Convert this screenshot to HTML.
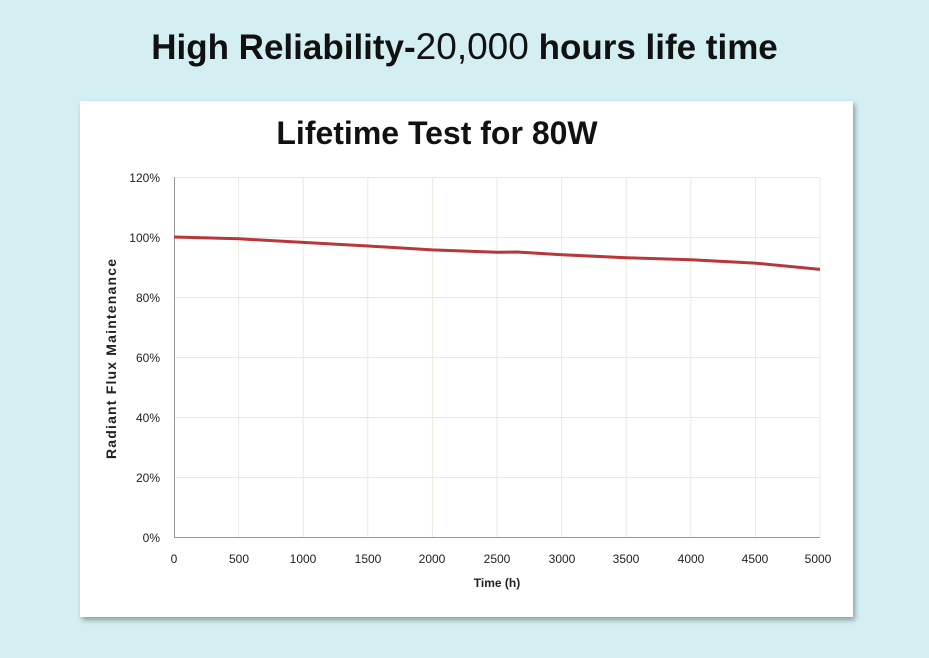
<!DOCTYPE html>
<html><head><meta charset="utf-8"><style>
html,body{margin:0;padding:0;width:929px;height:658px;background:#d3eff2;overflow:hidden;font-family:"Liberation Sans",sans-serif}
.t{position:absolute;left:0;width:929px;top:26px;text-align:center;font-weight:bold;font-size:35px;color:#111;white-space:nowrap}
.t span{font-weight:normal;font-size:37px}
.box{position:absolute;left:80px;top:101px;width:773px;height:516px;background:#fff;box-shadow:2px 3px 5px rgba(0,0,0,0.35)}
</style></head><body>
<div class="t">High Reliability-<span>20,000</span> hours life time</div>
<div class="box"></div>
<svg width="929" height="658" style="position:absolute;left:0;top:0" font-family="Liberation Sans, sans-serif">
<text x="437" y="144" text-anchor="middle" font-size="32" font-weight="bold" fill="#111">Lifetime Test for 80W</text>
<g stroke="#ebeadc" stroke-width="1">
<line x1="174" x2="820" y1="177.5" y2="177.5"/><line x1="174" x2="820" y1="237.5" y2="237.5"/><line x1="174" x2="820" y1="297.5" y2="297.5"/><line x1="174" x2="820" y1="357.5" y2="357.5"/><line x1="174" x2="820" y1="417.5" y2="417.5"/><line x1="174" x2="820" y1="477.5" y2="477.5"/>
<line x1="238.6" x2="238.6" y1="177" y2="537"/><line x1="303.2" x2="303.2" y1="177" y2="537"/><line x1="367.8" x2="367.8" y1="177" y2="537"/><line x1="432.4" x2="432.4" y1="177" y2="537"/><line x1="497" x2="497" y1="177" y2="537"/><line x1="561.6" x2="561.6" y1="177" y2="537"/><line x1="626.2" x2="626.2" y1="177" y2="537"/><line x1="690.8" x2="690.8" y1="177" y2="537"/><line x1="755.4" x2="755.4" y1="177" y2="537"/><line x1="820" x2="820" y1="177" y2="537"/>
</g>
<g stroke="#999" stroke-width="1">
<line x1="174.5" x2="174.5" y1="177" y2="537"/><line x1="174" x2="820" y1="537.5" y2="537.5"/>
</g>
<g font-size="12" fill="#222" text-anchor="end">
<text x="160" y="182">120%</text><text x="160" y="242">100%</text><text x="160" y="302">80%</text><text x="160" y="362">60%</text><text x="160" y="422">40%</text><text x="160" y="482">20%</text><text x="160" y="542">0%</text>
</g>
<g font-size="12" fill="#222" text-anchor="middle">
<text x="174" y="563">0</text><text x="239" y="563">500</text><text x="303" y="563">1000</text><text x="368" y="563">1500</text><text x="432" y="563">2000</text><text x="497" y="563">2500</text><text x="562" y="563">3000</text><text x="626" y="563">3500</text><text x="691" y="563">4000</text><text x="755" y="563">4500</text><text x="818" y="563">5000</text>
</g>
<text x="497" y="587" text-anchor="middle" font-size="12" font-weight="bold" fill="#222">Time (h)</text>
<text transform="translate(116,359) rotate(-90)" text-anchor="middle" font-size="14" font-weight="bold" fill="#222" textLength="200">Radiant Flux Maintenance</text>
<polyline fill="none" stroke="#b8373a" stroke-width="3" stroke-linejoin="round" points="174,237 239,238.8 303,242.4 368,246 432,249.9 497,252.3 517,252 562,254.7 626,257.7 691,259.8 755,263.1 820,269.4"/>
</svg>
</body></html>
